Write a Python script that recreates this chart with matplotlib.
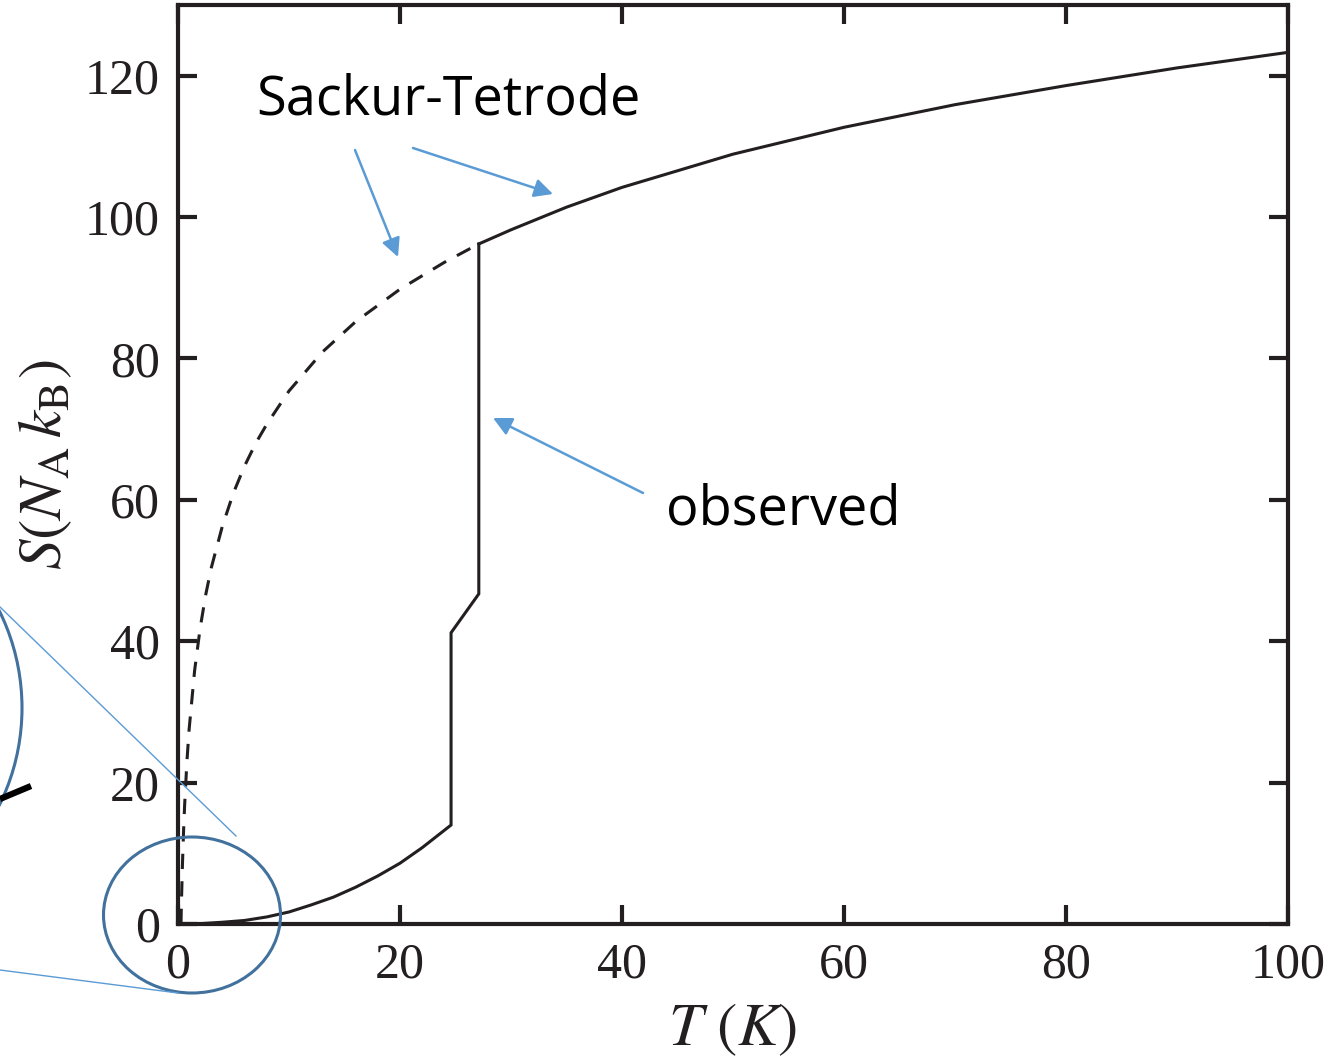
import matplotlib.pyplot as plt
from matplotlib.patches import Ellipse
from matplotlib.lines import Line2D

# observed entropy (solid, low T part with the two jumps)
T_obs = [0, 2, 4, 6, 8, 10, 12, 14, 16, 18, 20, 22, 24.6, 24.6, 27.1, 27.1]
S_obs = [0, 0.05, 0.25, 0.5, 1.0, 1.7, 2.7, 3.8, 5.2, 6.8, 8.6, 10.8, 14.0, 41.2, 46.7, 96.2]

# Sackur-Tetrode, solid above the boiling point
T_st = [27.1, 30, 35, 40, 50, 60, 70, 80, 90, 100]
S_st = [96.2, 98.2, 101.4, 104.2, 108.9, 112.7, 115.9, 118.6, 121.1, 123.3]

# Sackur-Tetrode, dashed extrapolation below it
T_dash = [0.27, 0.3, 0.4, 0.5, 0.6, 0.8, 1, 1.5, 2, 2.5, 3, 4, 5, 6, 7, 8, 10, 13, 16, 20, 24, 27.1]
S_dash = [0, 2.5, 8.4, 13.1, 16.9, 22.9, 27.5, 35.9, 41.9, 46.6, 50.4, 56.3, 61.0, 64.8, 68.0, 70.7,
          75.4, 80.9, 85.2, 89.8, 93.6, 96.2]

x_ticks = [0, 20, 40, 60, 80, 100]
y_ticks = [0, 20, 40, 60, 80, 100, 120]

W, H = 1340, 1064
BLUE = '#5B9BD5'
DARK_BLUE = '#41719C'
INK = '#231F20'

plt.rcParams['mathtext.fontset'] = 'stix'

fig = plt.figure(figsize=(W / 100, H / 100), dpi=100)
ax = fig.add_axes([178 / W, 1 - 924 / H, (1288 - 178) / W, (924 - 5) / H])


def fp(x, y):
    # picture pixels (top-left origin) -> figure fraction
    return (x / W, 1 - y / H)


ax.plot(T_obs, S_obs, color=INK, lw=2.2, solid_joinstyle='miter')
ax.plot(T_st, S_st, color=INK, lw=2.2)
ax.plot(T_dash, S_dash, color=INK, lw=2.2, linestyle=(0, (5, 4)))

ax.set_xlim(0, 100)
ax.set_ylim(0, 130)
ax.set_xticks(x_ticks)
ax.set_yticks(y_ticks)
ax.tick_params(direction='in', length=14, width=3, top=True, right=True,
               labelsize=36, pad=13, colors=INK)
for lab in ax.get_xticklabels() + ax.get_yticklabels():
    lab.set_fontfamily('Liberation Serif')
for sp in ax.spines.values():
    sp.set_linewidth(3)
    sp.set_color(INK)

ax.set_xlabel(r'$T\ (K)$', fontsize=44, labelpad=8, color=INK)
ax.set_ylabel(r'$S(N_{\rm A}\,k_{\rm B})$', fontsize=44, labelpad=8, color=INK)

# callout texts
fig.text(*fp(448, 100), 'Sackur-Tetrode', fontsize=39, family='Open Sans',
         ha='center', va='center')
fig.text(*fp(783, 510), 'observed', fontsize=39, family='Open Sans',
         ha='center', va='center')

arrows = [((355, 150), (398, 257)), ((413, 148), (553, 194)), ((643, 493), (493, 418))]
for start, end in arrows:
    ax.annotate('', xy=fp(*end), xycoords='figure fraction',
                xytext=fp(*start), textcoords='figure fraction',
                arrowprops=dict(arrowstyle='-|>', color=BLUE, lw=1.8, mutation_scale=28,
                                shrinkA=0, shrinkB=0), annotation_clip=False)

# zoom callout: small ellipse at origin, big one off the left edge, connector lines
fig.add_artist(Ellipse(fp(192, 915), 177 / W, 156 / H, transform=fig.transFigure,
                       fill=False, ec=DARK_BLUE, lw=2.2))
fig.add_artist(Ellipse(fp(-178, 708), 400 / W, 420 / H, transform=fig.transFigure,
                       fill=False, ec=DARK_BLUE, lw=2.2))
fig.add_artist(Line2D([0, 236 / W], [1 - 607 / H, 1 - 836 / H], transform=fig.transFigure,
                      color=BLUE, lw=1))
fig.add_artist(Line2D([0, 178 / W], [1 - 970 / H, 1 - 993 / H], transform=fig.transFigure,
                      color=BLUE, lw=1))
fig.add_artist(Line2D([0, 31 / W], [1 - 799 / H, 1 - 786 / H], transform=fig.transFigure,
                      color='black', lw=4.5, solid_capstyle='butt'))

fig.savefig('out.png', dpi=100)
